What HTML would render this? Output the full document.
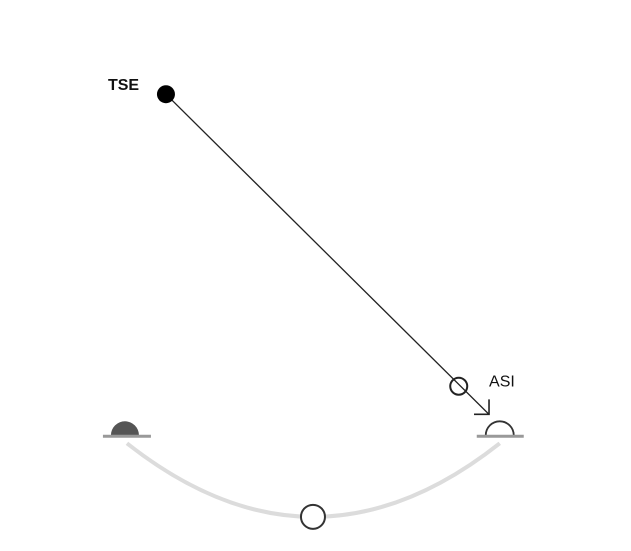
<!DOCTYPE html>
<html><head><meta charset="utf-8"><style>
html,body{margin:0;padding:0;background:#fff;}
svg{display:block;font-family:"Liberation Sans",sans-serif;}
</style></head><body>
<svg id="chart" width="631" height="551" viewBox="0 0 631 551">
<defs>
<marker id="arr" viewBox="0 0 20 20" refX="18" refY="18" markerWidth="20" markerHeight="20" markerUnits="userSpaceOnUse" orient="0">
<path d="M18 3 L18 18 L3 18" fill="none" stroke="#222" stroke-width="1.6"/>
</marker>
</defs>
<g id="g"></g>
</svg>
<script>
// Data (domain units: x 0..100, y 0..100)
const labels = ["TSE", "ASI"];
const startPoint = [26.3, 17.1];
const midPoint = [72.7, 70.1];
const endPoint = [77.5, 75.2];
const anchorLeft = [19.8, 79.0];
const anchorRight = [79.2, 79.0];
const arcBottom = [49.6, 93.8];

const xs = v => v * 6.31;
const ys = v => v * 5.51;
const NS = "http://www.w3.org/2000/svg";
const g = document.getElementById("g");
function mk(tag, attrs, name) {
  const el = document.createElementNS(NS, tag);
  for (const k in attrs) el.setAttribute(k, attrs[k]);
  
  
  g.appendChild(el);
  return el;
}
const lx = xs(anchorLeft[0]), ly = ys(anchorLeft[1]);
const rx = xs(anchorRight[0]), ry = ys(anchorRight[1]);
const bx = xs(arcBottom[0]), by = ys(arcBottom[1]);
const cx = 2 * bx - (lx + rx) / 2, cy = 2 * by - (ly + ry + 16) / 2;
mk("path", {d:`M${lx+2} ${ly+8} Q${cx} ${cy} ${rx} ${ry+8}`, fill:"none", stroke:"#dcdcdc", "stroke-width":4}, "arc-path");
mk("path", {d:`M${lx-14} ${ly} A14 14 0 0 1 ${lx+14} ${ly} Z`, fill:"#555"}, "left-anchor-dome");
mk("line", {x1:lx-22, y1:ly+1, x2:lx+26, y2:ly+1, stroke:"#999", "stroke-width":3}, "left-anchor-base");
mk("path", {d:`M${rx-14} ${ry} A14 14 0 0 1 ${rx+14} ${ry}`, fill:"none", stroke:"#333", "stroke-width":1.8}, "right-anchor-dome");
mk("line", {x1:rx-23, y1:ry+1, x2:rx+24, y2:ry+1, stroke:"#999", "stroke-width":3}, "right-anchor-base");
mk("circle", {cx:bx, cy:by, r:12, fill:"#fff", stroke:"#333", "stroke-width":2}, "arc-midpoint-circle");
const sx = xs(startPoint[0]), sy = ys(startPoint[1]);
const ex = xs(endPoint[0]), ey = ys(endPoint[1]);
mk("line", {x1:sx, y1:sy, x2:ex, y2:ey, stroke:"#222", "stroke-width":1.3, "marker-end":"url(#arr)"}, "trajectory-arrow");
mk("circle", {cx:sx, cy:sy, r:9, fill:"#000"}, "tse-point");
mk("circle", {cx:xs(midPoint[0]), cy:ys(midPoint[1]), r:8.5, fill:"none", stroke:"#222", "stroke-width":2}, "intermediate-point");
const t1 = mk("text", {x:sx-58, y:sy-4, "font-size":16, fill:"#111", "font-weight":"bold"}, "tse-label");
t1.textContent = labels[0];
const t2 = mk("text", {x:ex, y:ey-28, "font-size":16, fill:"#111"}, "asi-label");
t2.textContent = labels[1];
</script>
</body></html>
